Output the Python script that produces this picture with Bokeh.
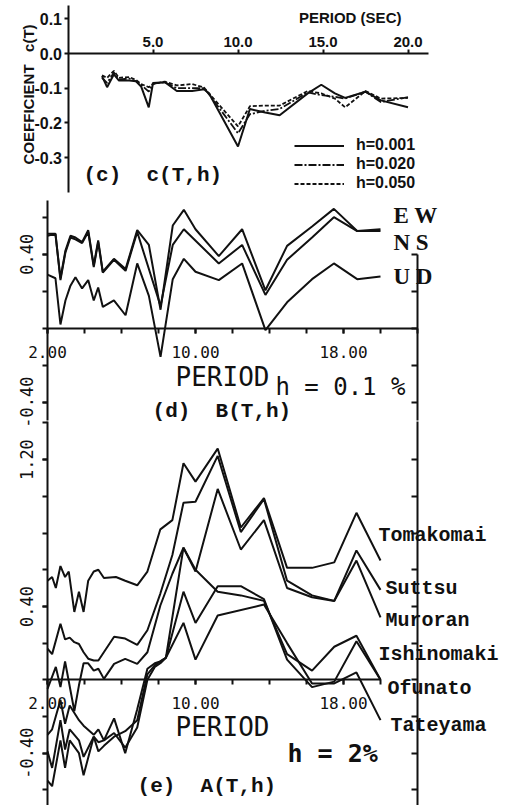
import math
from bokeh.plotting import figure
from bokeh.models import (Range1d, LinearAxis, FixedTicker, PrintfTickFormatter,
                          Label, Legend, LegendItem)
from bokeh.embed import file_html
from bokeh.resources import INLINE

# ---------------- data: panel (c) c(T,h) ----------------
c_period = [2.0, 2.3, 2.7, 3.0, 3.6, 4.0, 4.3, 4.75, 5.0, 5.7, 6.4, 7.3, 8.0, 8.3,
            10.0, 10.7, 11.6, 12.45, 14.1, 14.9, 15.7, 16.3, 17.5, 18.4, 20.0]
c_h001 = [-0.065, -0.097, -0.060, -0.078, -0.078, -0.080, -0.095, -0.155, -0.085, -0.083,
          -0.108, -0.108, -0.103, -0.115, -0.268, -0.160, -0.170, -0.178, -0.115, -0.090,
          -0.115, -0.128, -0.110, -0.135, -0.155]
c_h020 = [-0.070, -0.085, -0.055, -0.075, -0.072, -0.080, -0.090, -0.110, -0.087, -0.083,
          -0.100, -0.100, -0.100, -0.118, -0.230, -0.175, -0.165, -0.160, -0.112, -0.120,
          -0.125, -0.130, -0.110, -0.140, -0.126]
c_h050 = [-0.063, -0.070, -0.050, -0.070, -0.068, -0.076, -0.088, -0.097, -0.088, -0.081,
          -0.092, -0.088, -0.098, -0.115, -0.210, -0.152, -0.150, -0.150, -0.108, -0.115,
          -0.130, -0.155, -0.108, -0.130, -0.128]
c_labels = ["h=0.001", "h=0.020", "h=0.050"]
c_ticks_x = [5.0, 10.0, 15.0, 20.0]
c_ticks_y = [0.1, 0.0, -0.1, -0.2, -0.3]

# ---------------- data: panel (d) B(T,h), h = 0.1 % ----------------
ew_period = [2.0, 2.43, 2.7, 2.97, 3.24, 3.51, 3.87, 4.2, 4.5, 4.74, 4.99, 5.59, 6.22, 6.85,
             7.48, 8.11, 8.77, 9.37, 10.0, 11.26, 12.52, 13.78, 14.95, 16.3, 17.48, 18.74, 20.0]
ew_b = [0.51, 0.51, 0.27, 0.42, 0.50, 0.49, 0.465, 0.53, 0.34, 0.475, 0.305, 0.375, 0.32, 0.53,
        0.45, 0.10, 0.555, 0.64, 0.535, 0.39, 0.535, 0.205, 0.445, 0.55, 0.645, 0.525, 0.525]
ns_period = [2.0, 2.43, 2.7, 2.97, 3.24, 3.51, 3.87, 4.2, 4.5, 4.74, 4.99, 5.59, 6.22, 6.85,
             8.11, 8.77, 9.37, 11.26, 12.52, 13.78, 14.95, 16.3, 17.48, 18.74, 20.0]
ns_b = [0.50, 0.51, 0.26, 0.41, 0.49, 0.48, 0.46, 0.52, 0.33, 0.465, 0.30, 0.37, 0.31, 0.52,
        0.12, 0.45, 0.535, 0.35, 0.45, 0.18, 0.37, 0.49, 0.60, 0.525, 0.535]
ud_period = [2.0, 2.43, 2.7, 2.97, 3.24, 3.51, 3.87, 4.2, 4.5, 4.74, 4.99, 5.59, 6.22, 6.85,
             7.48, 8.11, 8.77, 9.37, 10.0, 11.26, 12.52, 13.78, 14.95, 16.3, 17.48, 18.74, 20.0]
ud_b = [0.29, 0.27, 0.02, 0.15, 0.23, 0.275, 0.215, 0.26, 0.15, 0.22, 0.115, 0.15, 0.07, 0.35,
        0.175, -0.155, 0.265, 0.375, 0.305, 0.26, 0.35, -0.01, 0.14, 0.265, 0.35, 0.265, 0.28]
d_names = ["E W", "N S", "U D"]

# ---------------- data: panel (e) A(T,h), h = 2 % ----------------
tom_period = [2.0, 2.25, 2.45, 2.7, 2.95, 3.15, 3.45, 3.7, 3.95, 4.2, 4.5, 4.75, 5.05, 5.7,
              6.2, 6.85, 7.4, 8.1, 8.75, 9.35, 10.0, 11.2, 12.45, 13.7, 14.95, 16.3, 17.5,
              18.7, 20.0]
tom_a = [0.54, 0.56, 0.50, 0.62, 0.56, 0.59, 0.37, 0.48, 0.37, 0.54, 0.59, 0.60, 0.555, 0.56,
         0.54, 0.515, 0.59, 0.82, 0.87, 1.18, 1.08, 1.26, 0.83, 0.99, 0.61, 0.61, 0.64,
         0.91, 0.65]
sut_period = [2.0, 2.25, 2.7, 2.95, 3.2, 3.45, 3.7, 3.95, 4.2, 4.5, 4.75, 5.6, 6.2, 6.85, 7.4,
              8.1, 8.75, 9.35, 10.0, 11.2, 12.45, 13.7, 14.95, 16.3, 17.5, 18.7, 20.0]
sut_a = [0.17, 0.14, 0.305, 0.22, 0.23, 0.205, 0.195, 0.15, 0.115, 0.105, 0.105, 0.235, 0.225,
         0.19, 0.27, 0.47, 0.68, 0.965, 0.97, 1.22, 0.805, 0.985, 0.54, 0.46, 0.43, 0.705, 0.49]
mur_period = [2.0, 2.45, 2.7, 2.95, 3.45, 3.7, 3.95, 4.2, 4.5, 4.75, 5.05, 5.6, 6.2, 6.85, 7.4,
              8.1, 8.75, 9.35, 10.0, 11.2, 12.45, 13.7, 14.95, 16.3, 17.5, 18.7, 20.0]
mur_a = [-0.05, 0.07, -0.04, 0.10, -0.17, -0.03, 0.09, 0.09, 0.05, 0.06, 0.005, 0.087, 0.114,
         0.087, 0.15, 0.405, 0.578, 0.72, 0.59, 1.04, 0.71, 0.87, 0.50, 0.45, 0.43, 0.65, 0.34]
low_period = [2.0, 2.25, 2.7, 2.95, 3.2, 3.7, 3.95, 4.5, 4.75, 5.05, 5.6, 6.2, 6.85, 7.4, 7.8,
              8.1, 8.4, 9.35, 10.0, 11.2, 12.45, 13.7, 14.95, 16.3, 17.5, 18.7, 20.0]
ish_a = [-0.30, -0.27, -0.11, -0.24, -0.14, -0.22, -0.25, -0.30, -0.27, -0.33, -0.21, -0.40,
         -0.16, 0.06, 0.09, 0.10, 0.12, 0.72, 0.60, 0.48, 0.46, 0.43, 0.14, 0.05, 0.18, 0.24, 0.0]
ofu_a = [-0.39, -0.48, -0.22, -0.38, -0.27, -0.33, -0.42, -0.31, -0.39, -0.36, -0.31, -0.28,
         -0.22, 0.03, 0.08, 0.10, 0.12, 0.48, 0.31, 0.51, 0.51, 0.44, 0.11, -0.04, -0.01, 0.21, 0.0]
tat_period = [2.0, 2.25, 2.7, 2.95, 3.2, 3.7, 3.95, 4.5, 4.75, 5.05, 5.6, 6.2, 6.85, 7.4, 7.8,
              8.1, 8.4, 9.35, 10.0, 11.2, 13.7, 14.95, 16.3, 17.5, 18.7, 20.0]
tat_a = [-0.55, -0.58, -0.33, -0.48, -0.33, -0.40, -0.52, -0.31, -0.34, -0.33, -0.29, -0.37,
         -0.26, 0.0, 0.07, 0.09, 0.12, 0.31, 0.11, 0.35, 0.41, 0.20, -0.02, -0.02, 0.04, -0.22]
e_names = ["Tomakomai", "Suttsu", "Muroran", "Ishinomaki", "Ofunato", "Tateyama"]
de_major_x = [2.0, 10.0, 18.0]

# ---------------- page calibration (pixels of the page) ----------------
W, H, M = 513, 805, 0
PX_L, PX_R, PY_T, PY_B = M, M + W, M, M + H


def xr(zero_px, ppu, zero_val):
    return Range1d(zero_val + (PX_L - zero_px) / ppu, zero_val + (PX_R - zero_px) / ppu)


def yr(zero_px, ppu):
    return Range1d((zero_px - PY_B) / ppu, (zero_px - PY_T) / ppu)


p = figure(width=W, height=H, x_range=xr(47, 18.5, 2.0), y_range=yr(679.3, 183.5),
           x_axis_type=None, y_axis_type=None, toolbar_location=None,
           output_backend="svg", min_border=0, outline_line_color=None,
           background_fill_color="white", border_fill_color="white")
p.extra_x_ranges = {"c": xr(67.5, 17.0, 0.0)}
p.extra_y_ranges = {"c": yr(53, 347.0), "d": yr(327.7, 185.0)}

BLACK = "#111111"


def axis(side, **kw):
    a = LinearAxis(axis_line_width=2, axis_line_color=BLACK,
                   major_tick_line_width=2, minor_tick_line_width=2,
                   major_tick_line_color=BLACK, minor_tick_line_color=BLACK,
                   major_label_text_color=BLACK, **kw)
    p.add_layout(a, side)
    return a


sans_b = dict(major_label_text_font="Liberation Sans", major_label_text_font_style="bold")
mono = dict(major_label_text_font="DejaVu Sans Mono", major_label_text_font_style="normal")

# panel (c) axes
axis("left", x_range_name="c", y_range_name="c", fixed_location=0, bounds=(-0.40, 0.138),
     ticker=FixedTicker(ticks=c_ticks_y), formatter=PrintfTickFormatter(format="%.1f"),
     major_tick_out=4, major_tick_in=0, major_label_standoff=2,
     major_label_text_font_size="16px", **sans_b)
axis("above", x_range_name="c", y_range_name="c", fixed_location=0, bounds=(0, 21.2),
     ticker=FixedTicker(ticks=c_ticks_x), formatter=PrintfTickFormatter(format="%.1f"),
     major_tick_out=4, major_tick_in=0, major_label_standoff=3,
     major_label_text_font_size="15px", **sans_b)

# panel (d) axes
axis("left", y_range_name="d", fixed_location=2, bounds=(-0.5, 0.69),
     ticker=FixedTicker(ticks=[-0.4, 0.4], minor_ticks=[-0.4, -0.2, 0.0, 0.2, 0.4, 0.6]),
     formatter=PrintfTickFormatter(format="%.2f"), major_label_orientation="vertical",
     major_tick_out=5, major_tick_in=0, minor_tick_out=5, minor_tick_in=0,
     major_label_standoff=9, major_label_text_font_size="17px", **mono)
axis("below", y_range_name="d", fixed_location=0, bounds=(2, 22),
     ticker=FixedTicker(ticks=de_major_x, minor_ticks=list(range(2, 23, 2))),
     formatter=PrintfTickFormatter(format="%.2f"),
     major_tick_out=5, major_tick_in=0, minor_tick_out=5, minor_tick_in=0,
     major_label_standoff=13, major_label_text_font_size="16px", **mono)
axis("right", y_range_name="d", fixed_location=22, bounds=(-0.5, 0.4),
     ticker=FixedTicker(ticks=[], minor_ticks=[-0.4, -0.2, 0.0, 0.2, 0.4]),
     minor_tick_out=0, minor_tick_in=6, major_tick_out=0, major_tick_in=6)

# panel (e) axes
axis("left", fixed_location=2, bounds=(-0.75, 1.41),
     ticker=FixedTicker(ticks=[-0.4, 0.4, 1.2],
                        minor_ticks=[-0.6, -0.4, -0.2, 0.0, 0.2, 0.4, 0.6, 0.8, 1.0, 1.2, 1.4]),
     formatter=PrintfTickFormatter(format="%.2f"), major_label_orientation="vertical",
     major_tick_out=5, major_tick_in=0, minor_tick_out=5, minor_tick_in=0,
     major_label_standoff=9, major_label_text_font_size="17px", **mono)
axis("below", fixed_location=0, bounds=(2, 20),
     ticker=FixedTicker(ticks=de_major_x, minor_ticks=list(range(2, 21, 2))),
     formatter=PrintfTickFormatter(format="%.2f"),
     major_tick_out=5, major_tick_in=0, minor_tick_out=5, minor_tick_in=0,
     major_label_standoff=12, major_label_text_font_size="16px", **mono)
axis("right", fixed_location=22, bounds=(-0.75, 1.41),
     ticker=FixedTicker(ticks=[], minor_ticks=[-0.6, -0.4, -0.2, 0.0, 0.2, 0.4, 0.6, 0.8,
                                              1.0, 1.2]),
     minor_tick_out=0, minor_tick_in=6, major_tick_out=0, major_tick_in=6)

# ---------------- curves ----------------
r1 = p.line(c_period, c_h001, x_range_name="c", y_range_name="c",
            line_color=BLACK, line_width=2)
r2 = p.line(c_period, c_h020, x_range_name="c", y_range_name="c",
            line_color=BLACK, line_width=1.8, line_dash="8 2 2 2")
r3 = p.line(c_period, c_h050, x_range_name="c", y_range_name="c",
            line_color=BLACK, line_width=1.8, line_dash="4 2")

for tx, ty in [(ew_period, ew_b), (ns_period, ns_b), (ud_period, ud_b)]:
    p.line(tx, ty, y_range_name="d", line_color=BLACK, line_width=2)

for tx, ty in [(tom_period, tom_a), (sut_period, sut_a), (mur_period, mur_a),
               (low_period, ish_a), (low_period, ofu_a), (tat_period, tat_a)]:
    p.line(tx, ty, line_color=BLACK, line_width=2)

legend = Legend(items=[LegendItem(label=lab, renderers=[r]) for lab, r in
                       zip(c_labels, [r1, r2, r3])],
                location=(294, 613), orientation="vertical", glyph_width=50,
                glyph_height=17, label_height=17, spacing=1, padding=0, margin=0,
                label_standoff=12, border_line_alpha=0, background_fill_alpha=0,
                label_text_font="Liberation Sans", label_text_font_style="bold",
                label_text_font_size="16px", label_text_color=BLACK)
p.add_layout(legend)

# ---------------- texts ----------------


def label(text, x, y, rx="default", ry="default", font="Liberation Mono", size="20px",
          style="bold", align="left", angle=0.0):
    p.add_layout(Label(x=x, y=y, x_range_name=rx, y_range_name=ry, text=text,
                       text_font=font, text_font_size=size, text_font_style=style,
                       text_align=align, text_baseline="middle", angle=angle,
                       text_color=BLACK))


NB = "\u00a0"
label("PERIOD (SEC)", 16.6, 0.104, "c", "c", "Liberation Sans", "15px", "bold", "center")
label("COEFFICIENT" + NB * 3 + "c(T)", -2.32, -0.118, "c", "c", "Liberation Sans", "15px",
      "bold", "center", math.pi / 2)
label("(c)" + NB * 2 + "c(T,h)", 0.91, -0.352, "c", "c", "Liberation Mono", "21px", "bold")

for name, yv in zip(d_names, [0.609, 0.463, 0.279]):
    label(name, 20.7, yv, "default", "d", "Liberation Serif", "23px", "bold")
label("PERIOD", 8.92, -0.266, "default", "d", "DejaVu Sans Mono", "26px", "normal")
label("h = 0.1 %", 14.32, -0.32, "default", "d", "DejaVu Sans Mono", "24px", "normal")
label("(d)" + NB * 2 + "B(T,h)", 7.68, -0.45, "default", "d", "Liberation Mono", "21px", "bold")

for name, xv, yv in zip(e_names, [19.89, 20.27, 20.27, 19.89, 20.38, 20.54],
                        [0.786, 0.4975, 0.323, 0.138, -0.046, -0.248]):
    label(name, xv, yv, font="Liberation Mono", size="20px", style="bold")
label("PERIOD", 8.92, -0.257, font="DejaVu Sans Mono", size="26px", style="normal")
label("h = 2%", 14.97, -0.404, font="DejaVu Sans Mono", size="25px", style="bold")
label("(e)" + NB * 2 + "A(T,h)", 6.87, -0.579, font="Liberation Mono", size="21px")

open("out.html", "w").write(file_html(p, INLINE))
